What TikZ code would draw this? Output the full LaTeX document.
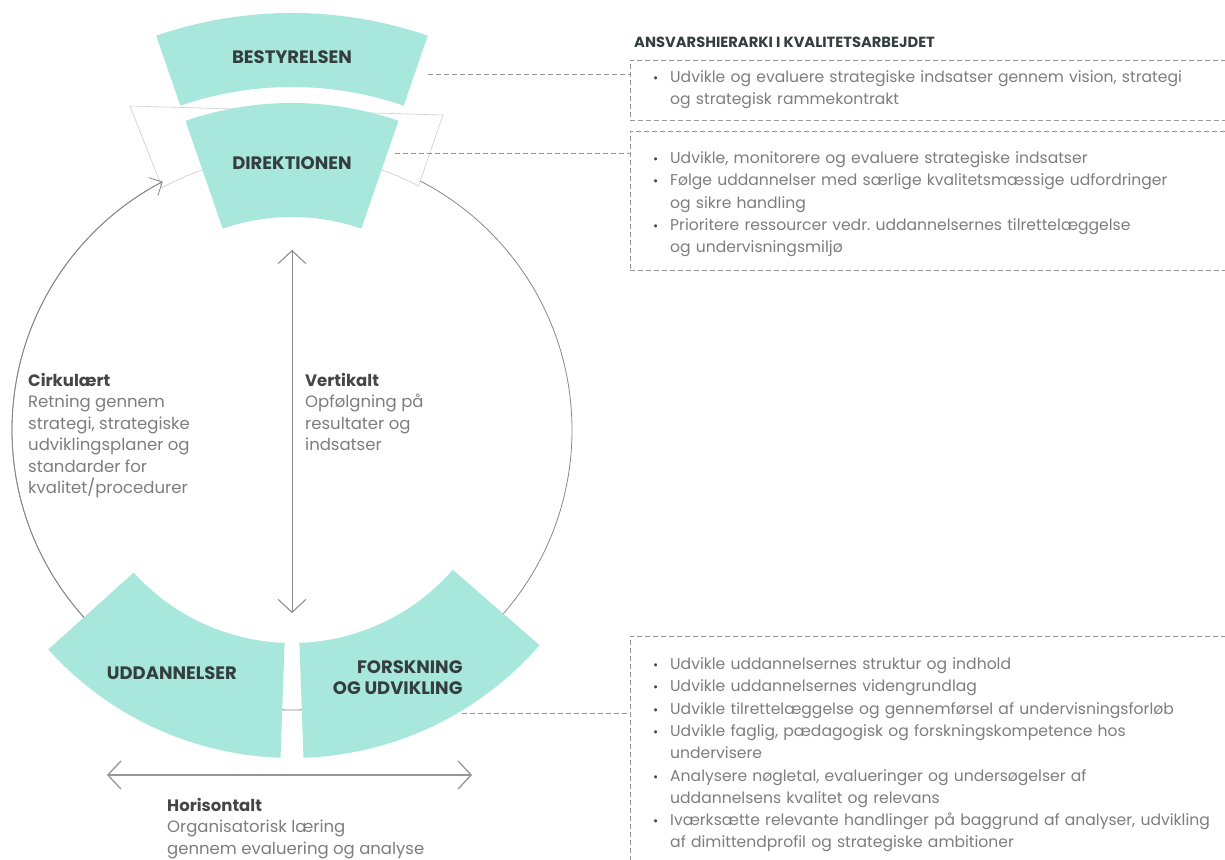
\documentclass[tikz,border=0pt]{standalone}
\usepackage{fontspec}
\setmainfont{Poppins}
\usetikzlibrary{arrows.meta}
\definecolor{mint}{RGB}{168,231,220}
\definecolor{inkdark}{RGB}{52,62,62}
\definecolor{headgrey}{RGB}{70,70,70}
\definecolor{inkgrey}{RGB}{125,125,125}
\definecolor{linegrey}{RGB}{135,135,135}
\definecolor{dashgrey}{RGB}{150,150,150}
\definecolor{bandgrey}{RGB}{205,205,205}
\frenchspacing
\newcommand{\bul}{\par\noindent\makebox[17pt][l]{\color{headgrey}\scalebox{0.8}{\textbullet}}}
\newcommand{\cnt}{\par\noindent\hspace*{17pt}}
\newcommand{\hd}[1]{{\color{headgrey}\bfseries #1}}
\begin{document}
\begin{tikzpicture}[x=1pt, y=1pt,
    seg/.style={fill=mint},
    seglabel/.style={font=\fontsize{18}{21}\selectfont\bfseries, text=inkdark, align=center},
    note/.style={font=\fontsize{16.5}{21.5}\selectfont, text=inkgrey, align=left, inner sep=0pt},
    listtext/.style={font=\fontsize{15.6}{22.3}\selectfont, text=inkgrey, text width=620pt, align=left, inner sep=0pt},
    dashbox/.style={draw=dashgrey, dash pattern=on 5pt off 3pt, line width=0.8pt, minimum width=700pt, inner sep=0pt},
    link/.style={draw=dashgrey, dash pattern=on 5pt off 3pt, line width=0.8pt},
    barb/.style={draw=linegrey, line width=1pt}]
    \useasboundingbox (-292,-429) rectangle (933,430);

    \draw[draw=linegrey, line width=0.8pt] (0,0) circle[radius=280];
    \filldraw[fill=white, draw=bandgrey, line width=0.6pt] (-162,324) -- (151,315) -- (62.6:275)
        arc[start angle=62.6, end angle=118.2, radius=275] -- cycle;
    \foreach \a/\b/\ri/\ro in {71/109/343/417, 71/109/213/327, 222/268/213/328, 272/319/213/328}
        \fill[seg] (\a:\ri) arc[start angle=\a, end angle=\b, radius=\ri] -- (\b:\ro)
            arc[start angle=\b, end angle=\a, radius=\ro] -- cycle;

    \node[seglabel] (best) at (90:373) {BESTYRELSEN};
    \node[seglabel] (dir) at (90:267) {DIREKTIONEN};
    \node[seglabel] (udd) at (243.7:271) {UDDANNELSER};
    \node[seglabel, align=right, anchor=east] (fou) at (174,-248) {FORSKNING\\OG UDVIKLING};

    \coordinate (cyc-a) at (222:280);
    \draw[barb, line width=0.8pt, -{Straight Barb[length=10pt,width=20pt]}] (cyc-a)
        arc[start angle=222, end angle=117.5, radius=280];
    \coordinate (v-top) at (0,180);
    \coordinate (v-bot) at (0,-183);
    \draw[barb, {Straight Barb[length=13pt,width=28pt]}-{Straight Barb[length=13pt,width=28pt]}] (v-top) to (v-bot);
    \coordinate (h-l) at (-185,-345);
    \coordinate (h-r) at (180,-345);
    \draw[barb, draw=dashgrey, line width=1.3pt, {Straight Barb[length=13pt,width=28pt]}-{Straight Barb[length=13pt,width=28pt]}] (h-l) to (h-r);

    \node[note, anchor=north west] (circ) at (-264,57) {\hd{Cirkulært}\\Retning gennem\\strategi, strategiske\\udviklingsplaner og\\standarder for\\kvalitet/procedurer};
    \node[note, anchor=north west] (vert) at (13,57) {\hd{Vertikalt}\\Opfølgning på\\resultater og\\indsatser};
    \node[note, anchor=north west] (hori) at (-125,-368) {\hd{Horisontalt}\\Organisatorisk læring\\gennem evaluering og analyse};

    \node[font=\fontsize{14.7}{17}\selectfont\bfseries, text=inkdark, anchor=west, inner sep=0pt] (title) at (342,388) {ANSVARSHIERARKI I KVALITETSARBEJDET};
    \node[dashbox, minimum height=60pt, anchor=north west] (box1) at (338,370) {};
    \node[dashbox, minimum height=139pt, anchor=north west] (box2) at (338,299) {};
    \node[dashbox, minimum height=300pt, anchor=north west] (box3) at (338,-206) {};

    \coordinate (best-e) at (136,356);
    \coordinate (dir-e) at (103,277);
    \coordinate (fou-e) at (170,-283);
    \draw[link] (best-e) to (best-e -| box1.west);
    \draw[link] (dir-e) to (dir-e -| box2.west);
    \draw[link] (fou-e) to (fou-e -| box3.west);

    \node[listtext, anchor=north west] (list1) at (361,370) {\bul Udvikle og evaluere strategiske indsatser gennem vision, strategi
        \cnt og strategisk rammekontrakt};
    \node[listtext, anchor=north west] (list2) at (361,289) {\bul Udvikle, monitorere og evaluere strategiske indsatser
        \bul Følge uddannelser med særlige kvalitetsmæssige udfordringer
        \cnt og sikre handling
        \bul Prioritere ressourcer vedr. uddannelsernes tilrettelæggelse
        \cnt og undervisningsmiljø};
    \node[listtext, anchor=north west] (list3) at (361,-217) {\bul Udvikle uddannelsernes struktur og indhold
        \bul Udvikle uddannelsernes videngrundlag
        \bul Udvikle tilrettelæggelse og gennemførsel af undervisningsforløb
        \bul Udvikle faglig, pædagogisk og forskningskompetence hos
        \cnt undervisere
        \bul Analysere nøgletal, evalueringer og undersøgelser af
        \cnt uddannelsens kvalitet og relevans
        \bul Iværksætte relevante handlinger på baggrund af analyser, udvikling
        \cnt af dimittendprofil og strategiske ambitioner};
\end{tikzpicture}
\end{document}
